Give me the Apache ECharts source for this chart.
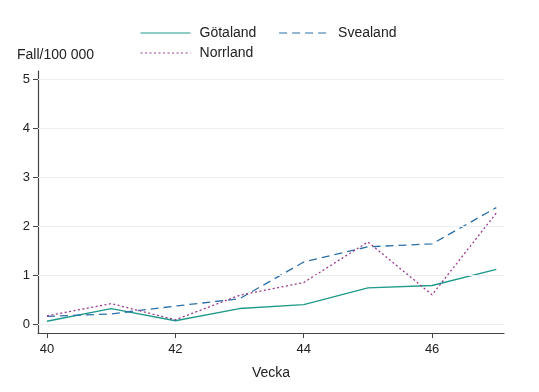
<!DOCTYPE html>
<html><head><meta charset="utf-8">
<script src="https://cdn.jsdelivr.net/npm/echarts@6/dist/echarts.min.js"></script>
<style>html,body{margin:0;padding:0;background:#fff}#c{width:539px;height:392px}</style>
</head><body><div id="c"></div>
<script>
const weeks = [40, 41, 42, 43, 44, 45, 46, 47];
const gotaland = [0.06, 0.32, 0.07, 0.32, 0.40, 0.74, 0.79, 1.12];
const svealand = [0.16, 0.21, 0.37, 0.52, 1.27, 1.58, 1.64, 2.38];
const norrland = [0.17, 0.42, 0.09, 0.59, 0.85, 1.68, 0.60, 2.27];
const xTicks = [40, 42, 44, 46];
const yTicks = [0, 1, 2, 3, 4, 5];

const font = 'Liberation Sans, Arial, sans-serif';
const pair = (ys) => weeks.map((w, i) => [w, ys[i]]);
const chart = echarts.init(document.getElementById('c'), null, {renderer: 'canvas'});
chart.setOption({
  animation: false,
  backgroundColor: '#fff',
  textStyle: {fontFamily: font},
  legend: {
    data: ['Götaland', 'Svealand', 'Norrland'], left: 135, top: 21, width: 300,
    itemWidth: 50, itemHeight: 14, itemGap: 6, selectedMode: false,
    itemStyle: {opacity: 0},
    lineStyle: {width: 1.1},
    textStyle: {fontSize: 14, color: '#222', fontFamily: font, width: 73, lineHeight: 14, padding: [0, 0, 0, 4]}
  },
  grid: {left: 38, right: 35, top: 71, bottom: 59, containLabel: false},
  xAxis: {
    type: 'value', min: 39.86, max: 47.12,
    name: 'Vecka', nameLocation: 'middle', nameGap: 33,
    nameTextStyle: {fontSize: 14, color: '#222', fontFamily: font},
    axisLine: {onZero: false, lineStyle: {color: '#444', width: 1.2}},
    axisTick: {show: true, length: 5, customValues: xTicks, lineStyle: {color: '#444'}},
    axisLabel: {customValues: xTicks, fontSize: 13, color: '#222', margin: 10, fontFamily: font},
    splitLine: {show: false}
  },
  yAxis: {
    type: 'value', min: -0.18, max: 5.17,
    name: 'Fall/100 000', nameLocation: 'end', nameGap: 9,
    nameTextStyle: {fontSize: 14, color: '#222', align: 'left', padding: [0, 0, 0, -21], fontFamily: font},
    axisLine: {show: true, onZero: false, lineStyle: {color: '#444', width: 1.2}},
    axisTick: {show: true, length: 5, customValues: yTicks, lineStyle: {color: '#444'}},
    axisLabel: {customValues: yTicks, fontSize: 13, color: '#222', margin: 8, fontFamily: font},
    splitLine: {show: false}
  },
  series: [
    {name: 'Götaland', type: 'line', data: pair(gotaland), symbol: 'none',
     lineStyle: {color: '#1f9a8a', width: 1.3, type: 'solid'}, itemStyle: {color: '#1f9a8a'},
     markLine: {silent: true, symbol: 'none', label: {show: false}, animation: false,
       lineStyle: {color: '#ebeef0', width: 1, type: 'solid'},
       data: yTicks.map(v => ({yAxis: v}))}, z: 3},
    {name: 'Svealand', type: 'line', data: pair(svealand), symbol: 'none',
     lineStyle: {color: '#2a6fa8', width: 1.3, type: [8, 5]}, itemStyle: {color: '#2a6fa8'}, z: 3},
    {name: 'Norrland', type: 'line', data: pair(norrland), symbol: 'none',
     lineStyle: {color: '#9a3a8e', width: 1.3, type: [2, 2.5]}, itemStyle: {color: '#9a3a8e'}, z: 3}
  ]
});
</script></body></html>
